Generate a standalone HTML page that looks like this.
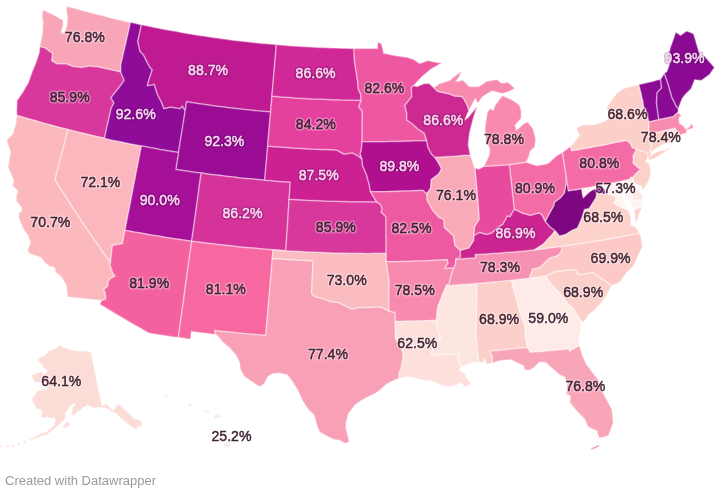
<!DOCTYPE html>
<html><head><meta charset="utf-8"><style>
html,body{margin:0;padding:0;background:#fff;}
body{width:720px;height:495px;overflow:hidden;position:relative;}
svg{position:absolute;left:0;top:0;filter:blur(0.4px);}
text{font-family:"Liberation Sans",sans-serif;font-size:15px;text-anchor:middle;}
text.lh{fill:none;stroke:#fff;stroke-width:3.2px;stroke-opacity:0.35;stroke-linejoin:round;}
text.l{fill:#402535;stroke:#402535;stroke-width:0.45px;}
text.wh{fill:none;stroke:#3a0040;stroke-width:3.2px;stroke-opacity:0.25;stroke-linejoin:round;}
text.w{fill:#f9dcf2;stroke:#f9dcf2;stroke-width:0.45px;}
.credit{position:absolute;left:5px;top:473px;font-family:"Liberation Sans",sans-serif;font-size:13px;color:#9a9a9a;filter:blur(0.3px);}
</style></head><body>
<svg width="720" height="495" viewBox="0 0 720 495">
<g stroke="#fff" stroke-width="1.5" stroke-opacity="0.4" stroke-linejoin="round">
<path d="M130.5,22.3L126.3,21.4L122.0,20.4L117.8,19.4L113.6,18.4L109.3,17.4L105.1,16.3L100.9,15.3L96.7,14.2L92.5,13.1L88.3,12.0L84.1,10.9L79.9,9.8L75.7,8.6L71.5,7.5L67.3,6.3L66.3,10.3L66.9,14.4L67.5,18.6L66.8,25.4L65.4,30.2L62.6,33.8L61.3,31.7L62.4,28.1L63.4,24.4L62.9,19.9L60.8,18.8L58.7,17.8L55.7,16.0L52.6,14.2L49.3,12.8L46.0,11.3L42.8,9.9L41.8,16.2L43.0,21.9L42.7,28.0L42.4,34.1L40.9,40.7L39.8,46.4L42.9,47.4L46.0,48.4L49.0,51.1L52.2,52.9L52.1,57.3L51.6,60.7L54.1,62.2L56.5,63.8L61.4,63.9L66.4,63.9L69.7,65.2L73.1,66.6L77.3,67.1L81.5,67.5L85.4,66.8L89.3,66.0L92.9,66.4L96.5,66.7L96.8,66.5L100.8,67.4L104.7,68.4L108.7,69.3L112.7,70.2L116.7,71.1L120.7,72.0L120.8,68.4L120.8,64.8L122.2,58.7L123.6,52.6L125.0,46.5L126.4,40.5L127.8,34.4L129.1,28.4Z" fill="#f8a5b8"/>
<path d="M39.8,46.4L39.2,52.6L37.6,57.5L36.0,62.3L34.1,67.1L32.1,71.8L30.1,77.4L28.1,83.1L25.4,87.6L22.7,92.2L19.9,96.3L17.0,100.4L16.8,105.2L16.6,110.0L16.8,115.4L21.4,116.8L26.1,118.2L30.7,119.5L35.3,120.8L40.0,122.1L44.6,123.4L49.3,124.7L54.0,126.0L58.6,127.2L63.3,128.4L68.0,129.6L72.5,130.8L77.1,131.9L81.6,133.0L86.2,134.1L90.7,135.2L95.3,136.3L99.8,137.3L104.4,138.3L105.8,132.3L107.1,126.3L108.5,120.3L109.8,114.3L111.2,108.3L114.0,102.8L110.9,97.7L114.9,92.8L118.9,87.8L121.6,84.1L124.3,80.3L122.5,76.2L120.7,72.0L116.7,71.1L112.7,70.2L108.7,69.3L104.7,68.4L100.8,67.4L96.8,66.5L96.5,66.7L92.9,66.4L89.3,66.0L85.4,66.8L81.5,67.5L77.3,67.1L73.1,66.6L69.7,65.2L66.4,63.9L61.4,63.9L56.5,63.8L54.1,62.2L51.6,60.7L52.1,57.3L52.2,52.9L49.0,51.1L46.0,48.4L42.9,47.4Z" fill="#d8389c"/>
<path d="M16.8,115.4L16.2,119.7L15.7,124.0L14.2,128.9L12.7,133.9L9.7,137.1L6.7,140.3L8.7,147.0L10.5,152.0L9.4,158.0L8.7,162.7L8.0,167.4L10.8,174.1L13.7,180.7L12.2,185.7L15.0,188.3L17.7,190.8L16.3,195.8L16.2,201.1L18.3,203.5L20.4,205.9L22.1,209.9L19.2,212.7L18.5,217.8L21.1,223.9L23.7,229.9L27.9,235.5L30.4,242.4L28.9,246.4L27.5,250.5L29.5,253.7L33.3,255.0L37.0,256.2L40.8,257.5L45.2,263.0L47.6,264.9L50.0,266.8L54.3,267.3L55.9,272.6L60.8,276.4L63.5,280.6L66.1,284.7L66.9,291.0L67.5,296.8L72.4,297.4L77.3,298.0L82.2,298.5L87.1,299.1L92.0,299.6L96.8,300.1L101.7,300.6L105.6,299.3L105.8,296.5L104.0,289.2L107.7,286.4L108.3,281.3L110.3,278.5L115.1,276.1L112.6,272.5L110.1,265.0L110.6,262.5L106.4,256.7L102.2,250.8L98.0,244.9L93.9,239.0L89.8,233.1L85.8,227.2L81.8,221.3L77.9,215.4L74.0,209.4L70.1,203.5L66.3,197.5L62.5,191.5L58.8,185.5L55.1,179.5L56.7,173.3L58.3,167.0L59.9,160.8L61.6,154.6L63.2,148.3L64.8,142.1L66.4,135.9L68.0,129.6L63.3,128.4L58.6,127.2L54.0,126.0L49.3,124.7L44.6,123.4L40.0,122.1L35.3,120.8L30.7,119.5L26.1,118.2L21.4,116.8Z" fill="#fbb9be"/>
<path d="M104.4,138.3L99.8,137.3L95.3,136.3L90.7,135.2L86.2,134.1L81.6,133.0L77.1,131.9L72.5,130.8L68.0,129.6L66.4,135.9L64.8,142.1L63.2,148.3L61.6,154.6L59.9,160.8L58.3,167.0L56.7,173.3L55.1,179.5L58.8,185.5L62.5,191.5L66.3,197.5L70.1,203.5L74.0,209.4L77.9,215.4L81.8,221.3L85.8,227.2L89.8,233.1L93.9,239.0L98.0,244.9L102.2,250.8L106.4,256.7L110.6,262.5L111.0,258.2L111.4,253.9L111.9,249.6L112.5,245.4L117.4,244.6L122.4,243.8L123.7,237.0L125.0,230.3L126.3,223.8L127.5,217.3L128.8,210.8L130.1,204.3L131.3,197.8L132.6,191.3L133.8,184.8L135.1,178.4L136.3,171.9L137.6,165.4L138.9,158.9L140.1,152.4L141.4,146.0L136.7,145.1L132.1,144.2L127.5,143.2L122.9,142.3L118.2,141.3L113.6,140.4L109.0,139.4Z" fill="#fbb7bd"/>
<path d="M130.5,22.3L129.1,28.4L127.8,34.4L126.4,40.5L125.0,46.5L123.6,52.6L122.2,58.7L120.8,64.8L120.8,68.4L120.7,72.0L122.5,76.2L124.3,80.3L121.6,84.1L118.9,87.8L114.9,92.8L110.9,97.7L114.0,102.8L111.2,108.3L109.8,114.3L108.5,120.3L107.1,126.3L105.8,132.3L104.4,138.3L109.0,139.4L113.6,140.4L118.2,141.3L122.9,142.3L127.5,143.2L132.1,144.2L136.7,145.1L141.4,146.0L146.0,146.8L150.6,147.7L155.3,148.5L159.9,149.4L164.6,150.2L169.2,150.9L173.9,151.7L178.5,152.4L179.5,146.5L180.4,140.5L181.4,134.5L182.4,128.5L183.3,122.5L184.3,116.5L185.2,110.6L182.3,106.0L180.0,108.5L175.2,107.7L170.4,106.9L167.2,107.7L164.0,108.4L161.4,101.9L159.6,98.5L157.8,95.2L156.0,89.7L154.3,84.3L150.9,84.9L147.4,85.4L148.4,81.7L149.5,78.0L150.9,74.0L152.3,69.9L149.8,66.9L148.0,63.9L145.9,59.6L143.8,55.3L141.9,53.2L139.9,51.0L138.9,46.2L137.8,41.5L139.0,35.9L140.2,30.3L141.4,24.7L137.8,23.9L134.1,23.1Z" fill="#8e0c98"/>
<path d="M141.4,24.7L140.2,30.3L139.0,35.9L137.8,41.5L138.9,46.2L139.9,51.0L141.9,53.2L143.8,55.3L145.9,59.6L148.0,63.9L149.8,66.9L152.3,69.9L150.9,74.0L149.5,78.0L148.4,81.7L147.4,85.4L150.9,84.9L154.3,84.3L156.0,89.7L157.8,95.2L159.6,98.5L161.4,101.9L164.0,108.4L167.2,107.7L170.4,106.9L175.2,107.7L180.0,108.5L182.3,106.0L185.2,110.6L185.9,106.2L186.6,101.8L191.3,102.6L195.9,103.3L200.6,104.0L205.2,104.6L209.9,105.3L214.5,105.9L219.2,106.5L223.8,107.1L228.5,107.7L233.2,108.3L237.8,108.8L242.5,109.3L247.2,109.8L251.9,110.3L256.5,110.8L261.2,111.2L265.9,111.6L270.6,112.0L271.0,106.7L271.5,101.4L271.9,96.1L272.5,89.6L273.1,83.2L273.6,76.7L274.2,70.3L274.7,63.9L275.3,57.4L275.8,51.0L276.4,44.6L271.8,44.2L267.3,43.8L262.8,43.4L258.2,42.9L253.7,42.5L249.2,42.0L244.7,41.5L240.1,41.0L235.6,40.4L231.1,39.9L226.6,39.3L222.1,38.7L217.6,38.0L213.1,37.4L208.6,36.8L204.1,36.1L199.6,35.4L195.1,34.7L190.6,33.9L186.1,33.2L181.6,32.4L177.1,31.6L172.6,30.8L168.2,30.0L163.7,29.2L159.2,28.3L154.8,27.4L150.3,26.5L145.8,25.6Z" fill="#bf1a92"/>
<path d="M185.2,110.6L184.3,116.5L183.3,122.5L182.4,128.5L181.4,134.5L180.4,140.5L179.5,146.5L178.5,152.4L177.6,158.1L176.7,163.7L175.8,169.4L180.9,170.2L185.9,170.9L191.0,171.7L196.1,172.4L201.1,173.1L206.0,173.8L210.9,174.4L215.8,175.0L220.7,175.6L225.5,176.2L230.4,176.8L235.3,177.3L240.2,177.9L245.1,178.4L250.0,178.8L254.9,179.3L259.8,179.8L264.7,180.2L265.3,173.4L265.9,166.5L266.5,159.7L267.1,152.9L267.7,146.0L268.2,139.2L268.8,132.4L269.4,125.6L270.0,118.8L270.6,112.0L265.9,111.6L261.2,111.2L256.5,110.8L251.9,110.3L247.2,109.8L242.5,109.3L237.8,108.8L233.2,108.3L228.5,107.7L223.8,107.1L219.2,106.5L214.5,105.9L209.9,105.3L205.2,104.6L200.6,104.0L195.9,103.3L191.3,102.6L186.6,101.8L185.9,106.2Z" fill="#9a0c94"/>
<path d="M178.5,152.4L173.9,151.7L169.2,150.9L164.6,150.2L159.9,149.4L155.3,148.5L150.6,147.7L146.0,146.8L141.4,146.0L140.1,152.4L138.9,158.9L137.6,165.4L136.3,171.9L135.1,178.4L133.8,184.8L132.6,191.3L131.3,197.8L130.1,204.3L128.8,210.8L127.5,217.3L126.3,223.8L125.0,230.3L130.1,231.2L135.2,232.2L140.4,233.1L145.5,234.0L150.6,234.9L155.7,235.8L160.8,236.6L166.0,237.4L171.1,238.2L176.3,239.0L181.4,239.7L186.5,240.5L191.7,241.2L192.6,234.4L193.6,227.6L194.5,220.8L195.5,214.0L196.4,207.1L197.4,200.3L198.3,193.5L199.2,186.7L200.2,179.9L201.1,173.1L196.1,172.4L191.0,171.7L185.9,170.9L180.9,170.2L175.8,169.4L176.7,163.7L177.6,158.1Z" fill="#a60f98"/>
<path d="M191.7,241.2L186.5,240.5L181.4,239.7L176.3,239.0L171.1,238.2L166.0,237.4L160.8,236.6L155.7,235.8L150.6,234.9L145.5,234.0L140.4,233.1L135.2,232.2L130.1,231.2L125.0,230.3L123.7,237.0L122.4,243.8L117.4,244.6L112.5,245.4L111.9,249.6L111.4,253.9L111.0,258.2L110.6,262.5L110.1,265.0L112.6,272.5L115.1,276.1L110.3,278.5L108.3,281.3L107.7,286.4L104.0,289.2L105.8,296.5L105.6,299.3L101.7,300.6L99.7,304.3L104.6,307.2L109.5,310.2L114.4,313.2L119.3,316.1L124.3,319.0L129.2,321.9L134.2,324.8L139.2,327.6L144.2,330.5L149.3,333.3L154.1,334.0L159.0,334.8L163.8,335.5L168.6,336.2L173.5,336.9L178.3,337.6L179.2,331.2L180.1,324.8L181.0,318.4L181.9,311.9L182.8,305.5L183.7,299.1L184.6,292.7L185.4,286.2L186.3,279.8L187.2,273.4L188.1,266.9L189.0,260.5L189.9,254.1L190.8,247.6Z" fill="#f3619f"/>
<path d="M201.1,173.1L200.2,179.9L199.2,186.7L198.3,193.5L197.4,200.3L196.4,207.1L195.5,214.0L194.5,220.8L193.6,227.6L192.6,234.4L191.7,241.2L196.8,241.9L201.8,242.6L206.9,243.2L212.0,243.8L217.0,244.4L222.1,245.0L227.2,245.6L232.3,246.1L237.4,246.7L242.4,247.2L247.5,247.7L252.6,248.1L257.7,248.6L262.8,249.0L267.9,249.4L273.0,249.8L277.3,250.1L281.5,250.4L285.8,250.7L286.2,244.2L286.6,237.8L287.1,231.4L287.5,224.9L287.9,218.5L288.3,212.1L288.7,205.6L289.1,199.2L289.5,193.5L289.9,187.8L290.2,182.1L285.1,181.8L280.0,181.4L274.9,181.0L269.8,180.6L264.7,180.2L259.8,179.8L254.9,179.3L250.0,178.8L245.1,178.4L240.2,177.9L235.3,177.3L230.4,176.8L225.5,176.2L220.7,175.6L215.8,175.0L210.9,174.4L206.0,173.8Z" fill="#d5329a"/>
<path d="M191.7,241.2L190.8,247.6L189.9,254.1L189.0,260.5L188.1,266.9L187.2,273.4L186.3,279.8L185.4,286.2L184.6,292.7L183.7,299.1L182.8,305.5L181.9,311.9L181.0,318.4L180.1,324.8L179.2,331.2L178.3,337.6L182.4,338.1L186.4,338.7L190.4,339.2L190.9,335.4L191.4,331.6L196.2,332.2L201.0,332.8L205.9,333.3L210.7,333.9L215.5,334.4L214.6,330.6L220.3,331.2L226.0,331.8L231.7,332.3L237.3,332.9L243.0,333.4L248.7,333.9L254.4,334.4L260.0,334.9L265.7,335.3L266.3,328.9L266.8,322.5L267.4,316.1L267.9,309.7L268.5,303.3L269.1,296.9L269.6,290.5L270.2,284.0L270.7,277.6L271.3,271.2L271.8,264.8L272.4,258.4L272.7,254.1L273.0,249.8L267.9,249.4L262.8,249.0L257.7,248.6L252.6,248.1L247.5,247.7L242.4,247.2L237.4,246.7L232.3,246.1L227.2,245.6L222.1,245.0L217.0,244.4L212.0,243.8L206.9,243.2L201.8,242.6L196.8,241.9Z" fill="#f6689f"/>
<path d="M272.4,258.4L271.8,264.8L271.3,271.2L270.7,277.6L270.2,284.0L269.6,290.5L269.1,296.9L268.5,303.3L267.9,309.7L267.4,316.1L266.8,322.5L266.3,328.9L265.7,335.3L260.0,334.9L254.4,334.4L248.7,333.9L243.0,333.4L237.3,332.9L231.7,332.3L226.0,331.8L220.3,331.2L214.6,330.6L215.5,334.4L218.6,337.0L222.4,341.7L225.8,344.7L229.2,347.6L232.4,351.3L235.8,355.1L239.5,362.3L239.9,365.8L240.3,369.2L244.2,376.4L247.7,378.9L251.2,381.3L256.9,385.2L260.5,386.6L264.5,383.2L266.2,379.9L268.0,376.6L272.6,373.8L275.6,373.4L278.6,373.0L283.0,374.0L287.4,374.9L290.2,378.7L292.9,382.4L295.3,386.4L297.7,390.3L300.1,395.6L302.5,400.8L305.3,405.2L308.2,409.5L311.1,412.2L314.0,414.9L315.4,420.0L316.7,425.1L319.5,432.0L323.3,434.2L327.1,436.5L333.2,439.2L337.1,440.1L340.9,441.0L344.7,443.6L349.4,441.8L348.0,436.1L346.9,431.8L345.8,427.6L346.6,420.8L347.5,417.4L348.3,414.0L352.1,409.0L355.2,404.8L361.3,400.6L364.3,398.9L367.3,397.2L371.0,395.5L374.8,393.8L377.8,391.7L380.7,389.5L385.2,385.2L391.1,381.7L395.1,380.0L399.2,378.2L399.1,373.4L401.2,367.9L402.2,362.7L403.1,357.6L403.0,352.5L401.1,348.2L399.2,344.0L395.6,338.9L395.5,333.1L395.4,327.3L395.3,321.5L395.2,316.9L395.1,312.4L392.0,311.7L388.9,310.9L385.2,309.1L381.5,307.2L378.0,307.1L374.5,306.9L371.0,307.2L367.4,307.5L363.2,307.5L359.0,307.4L355.5,308.3L351.9,309.1L349.1,307.7L346.3,306.4L342.1,304.4L338.0,302.3L334.5,302.0L331.0,301.8L326.8,300.1L322.7,298.4L319.2,297.7L315.7,297.0L311.7,294.0L311.9,287.4L312.2,280.7L312.5,274.1L312.8,267.4L313.1,260.7L308.0,260.5L302.9,260.3L297.8,260.0L292.7,259.7L287.6,259.4L282.5,259.1L277.4,258.7Z" fill="#f8a0b6"/>
<path d="M273.0,249.8L272.7,254.1L272.4,258.4L277.4,258.7L282.5,259.1L287.6,259.4L292.7,259.7L297.8,260.0L302.9,260.3L308.0,260.5L313.1,260.7L312.8,267.4L312.5,274.1L312.2,280.7L311.9,287.4L311.7,294.0L315.7,297.0L319.2,297.7L322.7,298.4L326.8,300.1L331.0,301.8L334.5,302.0L338.0,302.3L342.1,304.4L346.3,306.4L349.1,307.7L351.9,309.1L355.5,308.3L359.0,307.4L363.2,307.5L367.4,307.5L371.0,307.2L374.5,306.9L378.0,307.1L381.5,307.2L385.2,309.1L388.9,310.9L388.9,304.9L389.0,298.9L389.0,292.8L389.1,286.8L389.1,280.7L388.2,274.4L387.2,268.1L386.3,261.8L386.2,257.5L386.2,253.3L380.9,253.3L375.6,253.3L370.3,253.4L365.0,253.4L359.7,253.3L354.5,253.3L349.2,253.2L343.9,253.1L338.6,253.0L333.3,252.9L328.0,252.7L322.8,252.5L317.5,252.3L312.2,252.1L306.9,251.9L301.6,251.6L296.4,251.3L291.1,251.0L285.8,250.7L281.5,250.4L277.3,250.1Z" fill="#fabcc0"/>
<path d="M285.8,250.7L291.1,251.0L296.4,251.3L301.6,251.6L306.9,251.9L312.2,252.1L317.5,252.3L322.8,252.5L328.0,252.7L333.3,252.9L338.6,253.0L343.9,253.1L349.2,253.2L354.5,253.3L359.7,253.3L365.0,253.4L370.3,253.4L375.6,253.3L380.9,253.3L386.2,253.3L386.1,247.2L386.1,241.1L386.1,235.0L386.0,229.0L386.0,222.9L386.0,216.8L381.3,212.1L382.2,208.6L380.6,204.3L376.6,201.8L371.4,201.8L366.3,201.8L361.1,201.8L356.0,201.7L350.8,201.7L345.7,201.6L340.5,201.5L335.4,201.3L330.3,201.2L325.1,201.0L320.0,200.8L314.8,200.6L309.7,200.4L304.5,200.1L299.4,199.8L294.3,199.5L289.1,199.2L288.7,205.6L288.3,212.1L287.9,218.5L287.5,224.9L287.1,231.4L286.6,237.8L286.2,244.2Z" fill="#d8389c"/>
<path d="M264.7,180.2L269.8,180.6L274.9,181.0L280.0,181.4L285.1,181.8L290.2,182.1L289.9,187.8L289.5,193.5L289.1,199.2L294.3,199.5L299.4,199.8L304.5,200.1L309.7,200.4L314.8,200.6L320.0,200.8L325.1,201.0L330.3,201.2L335.4,201.3L340.5,201.5L345.7,201.6L350.8,201.7L356.0,201.7L361.1,201.8L366.3,201.8L371.4,201.8L376.6,201.8L373.4,196.6L370.6,191.8L369.9,188.2L369.3,184.6L367.8,179.5L366.4,174.3L364.5,170.0L362.6,165.8L362.0,159.1L358.9,156.3L355.8,154.6L352.7,152.8L348.3,153.4L344.0,154.0L340.3,152.0L336.6,149.9L331.7,149.8L326.7,149.6L321.8,149.4L316.9,149.2L311.9,149.0L307.0,148.7L302.1,148.5L297.2,148.2L292.2,147.9L287.3,147.6L282.4,147.2L277.5,146.8L272.6,146.5L267.7,146.0L267.1,152.9L266.5,159.7L265.9,166.5L265.3,173.4Z" fill="#cd2193"/>
<path d="M267.7,146.0L272.6,146.5L277.5,146.8L282.4,147.2L287.3,147.6L292.2,147.9L297.2,148.2L302.1,148.5L307.0,148.7L311.9,149.0L316.9,149.2L321.8,149.4L326.7,149.6L331.7,149.8L336.6,149.9L340.3,152.0L344.0,154.0L348.3,153.4L352.7,152.8L355.8,154.6L358.9,156.3L362.0,159.1L360.2,153.8L361.5,148.6L362.1,141.8L362.2,135.6L362.2,129.5L362.2,123.4L362.3,117.2L362.3,111.1L358.8,106.8L361.1,100.2L356.4,100.2L351.7,100.1L347.0,100.0L342.3,99.9L337.6,99.8L332.9,99.7L328.2,99.5L323.5,99.3L318.8,99.1L314.1,98.9L309.4,98.7L304.7,98.4L300.1,98.2L295.4,97.9L290.7,97.6L286.0,97.2L281.3,96.9L276.6,96.5L271.9,96.1L271.5,101.4L271.0,106.7L270.6,112.0L270.0,118.8L269.4,125.6L268.8,132.4L268.2,139.2Z" fill="#e6409e"/>
<path d="M271.9,96.1L276.6,96.5L281.3,96.9L286.0,97.2L290.7,97.6L295.4,97.9L300.1,98.2L304.7,98.4L309.4,98.7L314.1,98.9L318.8,99.1L323.5,99.3L328.2,99.5L332.9,99.7L337.6,99.8L342.3,99.9L347.0,100.0L351.7,100.1L356.4,100.2L361.1,100.2L360.7,94.1L358.3,89.0L357.8,82.2L357.0,77.1L356.2,72.1L355.4,67.0L354.6,61.9L354.2,55.2L353.8,48.5L349.5,48.4L345.2,48.3L340.9,48.2L336.6,48.1L332.3,48.0L328.0,47.8L323.7,47.6L319.4,47.4L315.1,47.2L310.8,47.0L306.5,46.8L302.2,46.5L297.9,46.3L293.6,46.0L289.3,45.7L285.0,45.3L280.7,45.0L276.4,44.6L275.8,51.0L275.3,57.4L274.7,63.9L274.2,70.3L273.6,76.7L273.1,83.2L272.5,89.6Z" fill="#d02896"/>
<path d="M353.8,48.5L354.2,55.2L354.6,61.9L355.4,67.0L356.2,72.1L357.0,77.1L357.8,82.2L358.3,89.0L360.7,94.1L361.1,100.2L358.8,106.8L362.3,111.1L362.3,117.2L362.2,123.4L362.2,129.5L362.2,135.6L362.1,141.8L366.7,141.8L371.4,141.8L376.0,141.8L380.6,141.8L385.2,141.7L389.8,141.6L394.4,141.6L399.0,141.5L403.7,141.3L408.3,141.2L412.9,141.0L417.5,140.9L422.1,140.7L426.7,140.5L425.4,136.7L424.1,132.9L421.0,130.9L417.8,128.9L412.7,124.0L409.6,121.9L406.5,119.9L406.9,113.9L405.9,109.7L404.9,105.5L408.3,101.1L411.7,96.8L411.6,92.1L411.4,87.4L413.7,85.7L418.2,80.8L422.7,76.0L427.1,72.4L431.6,68.7L435.0,66.9L438.3,65.0L441.7,63.1L439.4,62.8L437.0,62.5L432.4,61.5L427.7,60.5L423.7,62.0L419.7,63.4L416.8,61.5L413.8,59.5L410.3,58.3L406.8,57.2L403.4,56.8L399.9,56.3L396.5,55.8L392.2,55.0L388.0,54.1L383.8,53.2L382.6,48.3L381.4,43.5L377.5,42.2L377.5,48.6L373.6,48.6L369.6,48.6L365.7,48.6L361.7,48.6L357.8,48.5Z" fill="#ee57a2"/>
<path d="M426.7,140.5L422.1,140.7L417.5,140.9L412.9,141.0L408.3,141.2L403.7,141.3L399.0,141.5L394.4,141.6L389.8,141.6L385.2,141.7L380.6,141.8L376.0,141.8L371.4,141.8L366.7,141.8L362.1,141.8L361.5,148.6L360.2,153.8L362.0,159.1L362.6,165.8L364.5,170.0L366.4,174.3L367.8,179.5L369.3,184.6L369.9,188.2L370.6,191.8L375.3,191.8L380.1,191.7L384.9,191.7L389.6,191.6L394.4,191.4L399.1,191.3L403.9,191.1L408.7,191.0L413.4,190.8L418.2,190.6L422.9,190.4L426.7,194.0L430.6,188.3L431.0,184.0L431.4,179.7L435.1,176.9L438.8,174.1L441.6,168.8L439.9,165.5L438.1,162.1L434.8,157.2L431.4,153.9L427.9,147.2Z" fill="#b01090"/>
<path d="M426.7,194.0L422.9,190.4L418.2,190.6L413.4,190.8L408.7,191.0L403.9,191.1L399.1,191.3L394.4,191.4L389.6,191.6L384.9,191.7L380.1,191.7L375.3,191.8L370.6,191.8L373.4,196.6L376.6,201.8L380.6,204.3L382.2,208.6L381.3,212.1L386.0,216.8L386.0,222.9L386.0,229.0L386.1,235.0L386.1,241.1L386.1,247.2L386.2,253.3L386.2,257.5L386.3,261.8L391.3,261.8L396.4,261.7L401.5,261.6L406.5,261.4L411.6,261.3L416.7,261.1L421.7,260.9L426.8,260.7L431.9,260.5L436.9,260.2L442.0,260.0L447.1,259.7L447.9,263.1L444.6,268.4L449.1,268.2L453.7,267.9L455.5,264.3L455.9,259.1L460.5,257.1L460.3,250.2L455.0,245.4L454.3,240.7L453.7,236.0L449.0,231.6L444.4,227.1L444.2,223.2L444.0,219.4L438.6,217.1L435.8,213.8L433.0,210.5L430.1,205.5L427.3,200.5Z" fill="#ee5aa2"/>
<path d="M453.7,267.9L449.1,268.2L444.6,268.4L447.9,263.1L447.1,259.7L442.0,260.0L436.9,260.2L431.9,260.5L426.8,260.7L421.7,260.9L416.7,261.1L411.6,261.3L406.5,261.4L401.5,261.6L396.4,261.7L391.3,261.8L386.3,261.8L387.2,268.1L388.2,274.4L389.1,280.7L389.1,286.8L389.0,292.8L389.0,298.9L388.9,304.9L388.9,310.9L392.0,311.7L395.1,312.4L395.2,316.9L395.3,321.5L400.4,321.4L405.6,321.3L410.7,321.2L415.9,321.1L421.0,321.0L426.1,320.8L431.3,320.6L436.4,320.4L437.1,313.5L437.9,306.6L440.4,300.5L442.8,294.3L444.7,289.9L446.5,285.5L449.2,283.6L450.3,279.3L451.4,274.9Z" fill="#f78aae"/>
<path d="M436.4,320.4L431.3,320.6L426.1,320.8L421.0,321.0L415.9,321.1L410.7,321.2L405.6,321.3L400.4,321.4L395.3,321.5L395.4,327.3L395.5,333.1L395.6,338.9L399.2,344.0L401.1,348.2L403.0,352.5L403.1,357.6L402.2,362.7L401.2,367.9L399.1,373.4L399.2,378.2L403.3,377.5L407.3,376.8L413.3,377.8L417.8,379.0L422.2,380.1L426.0,380.4L429.7,380.6L433.5,382.2L437.3,383.7L441.8,385.2L446.4,386.7L450.1,386.5L453.8,386.2L456.7,384.4L459.6,382.5L465.9,387.2L468.7,385.3L471.6,383.4L466.8,378.6L465.0,373.6L458.8,369.7L461.6,367.3L459.9,363.8L458.2,360.4L458.8,353.5L453.3,353.8L447.9,354.1L442.4,354.4L437.0,354.7L431.5,354.9L432.8,349.7L434.0,344.5L437.4,341.0L440.9,337.4L439.2,333.2L437.6,329.0L437.0,324.7Z" fill="#fde0dc"/>
<path d="M436.4,320.4L437.0,324.7L437.6,329.0L439.2,333.2L440.9,337.4L437.4,341.0L434.0,344.5L432.8,349.7L431.5,354.9L437.0,354.7L442.4,354.4L447.9,354.1L453.3,353.8L458.8,353.5L458.2,360.4L459.9,363.8L461.6,367.3L465.9,365.3L470.2,363.3L474.6,362.8L478.9,362.3L478.2,356.0L477.4,349.6L476.7,343.2L475.9,336.8L476.1,330.4L476.3,323.9L476.4,317.5L476.6,311.0L476.7,304.5L476.8,298.1L477.0,291.6L477.1,285.1L475.6,283.5L470.7,283.9L465.9,284.3L461.0,284.6L456.2,284.9L451.4,285.2L446.5,285.5L444.7,289.9L442.8,294.3L440.4,300.5L437.9,306.6L437.1,313.5Z" fill="#fde6e2"/>
<path d="M475.6,283.5L477.1,285.1L477.0,291.6L476.8,298.1L476.7,304.5L476.6,311.0L476.4,317.5L476.3,323.9L476.1,330.4L475.9,336.8L476.7,343.2L477.4,349.6L478.2,356.0L478.9,362.3L483.4,362.8L484.5,358.5L486.5,364.3L489.4,363.6L492.3,362.9L492.4,356.1L489.8,351.2L495.2,350.7L500.6,350.2L506.0,349.7L511.4,349.1L516.7,348.6L522.1,348.0L527.5,347.4L526.6,342.4L525.6,337.3L525.3,331.3L525.0,325.3L523.2,321.2L521.5,317.1L519.8,311.0L518.1,304.8L516.5,298.7L514.8,292.5L513.1,286.4L511.5,280.2L506.4,280.7L501.2,281.3L496.1,281.7L491.0,282.2L485.8,282.7L480.7,283.1Z" fill="#fcd0ca"/>
<path d="M511.5,280.2L513.1,286.4L514.8,292.5L516.5,298.7L518.1,304.8L519.8,311.0L521.5,317.1L523.2,321.2L525.0,325.3L525.3,331.3L525.6,337.3L526.6,342.4L527.5,347.4L530.1,352.3L535.7,351.9L541.3,351.5L546.8,351.0L552.4,350.6L557.9,350.1L563.5,349.6L569.0,349.0L569.4,351.6L572.0,349.5L575.8,347.6L579.6,345.7L578.9,340.7L579.9,335.3L580.9,330.0L581.0,325.7L581.0,321.3L577.2,315.0L573.3,308.6L568.3,304.2L564.8,299.5L561.2,294.8L556.2,289.4L551.2,284.0L548.5,280.1L545.8,276.1L541.6,276.6L537.5,277.2L533.3,277.7L529.1,278.2L524.7,278.7L520.3,279.2L515.9,279.7Z" fill="#feeae7"/>
<path d="M579.6,345.7L575.8,347.6L572.0,349.5L569.4,351.6L569.0,349.0L563.5,349.6L557.9,350.1L552.4,350.6L546.8,351.0L541.3,351.5L535.7,351.9L530.1,352.3L527.5,347.4L522.1,348.0L516.7,348.6L511.4,349.1L506.0,349.7L500.6,350.2L495.2,350.7L489.8,351.2L492.4,356.1L492.3,362.9L497.3,361.6L502.4,360.3L506.8,360.1L511.2,359.8L515.1,361.8L519.0,363.8L523.7,365.9L524.9,370.0L530.1,370.3L534.3,367.3L536.9,364.8L539.6,362.3L545.6,362.5L548.9,365.5L552.3,368.5L555.7,371.5L559.1,374.5L564.8,377.2L567.2,383.7L566.7,388.9L566.3,394.1L570.4,396.1L569.7,402.2L574.5,408.4L577.2,411.4L580.0,414.5L584.5,418.9L586.3,423.0L588.0,427.0L592.2,428.9L596.5,430.8L597.8,434.5L599.2,438.1L602.3,437.6L605.3,436.7L608.3,435.8L610.1,432.1L611.7,427.6L613.3,423.0L612.9,418.5L612.5,414.0L612.1,409.5L609.1,404.0L606.1,398.5L603.3,392.9L600.5,387.4L599.5,383.6L598.5,379.9L595.2,375.7L591.8,371.5L589.0,367.6L586.1,363.8L584.4,359.7L582.6,355.7L581.1,350.7Z" fill="#f8a5b8"/>
<path d="M545.8,276.1L548.5,280.1L551.2,284.0L556.2,289.4L561.2,294.8L564.8,299.5L568.3,304.2L573.3,308.6L577.2,315.0L581.0,321.3L584.0,321.7L586.4,318.3L588.7,314.9L592.6,311.7L596.4,308.4L600.6,303.4L604.8,298.3L608.3,292.0L611.8,285.6L605.6,281.2L599.3,276.9L593.2,272.5L588.1,273.2L583.1,273.9L578.0,274.6L575.9,270.0L573.7,269.5L569.0,270.0L564.4,270.5L559.7,270.9L555.1,271.4L550.4,273.7Z" fill="#fcd0ca"/>
<path d="M529.1,278.2L533.3,277.7L537.5,277.2L541.6,276.6L545.8,276.1L550.4,273.7L555.1,271.4L559.7,270.9L564.4,270.5L569.0,270.0L573.7,269.5L575.9,270.0L578.0,274.6L583.1,273.9L588.1,273.2L593.2,272.5L599.3,276.9L605.6,281.2L611.8,285.6L614.5,284.5L617.3,283.4L620.4,281.6L623.0,277.7L625.6,273.8L629.8,269.5L634.0,265.3L636.1,260.4L638.2,255.5L640.3,251.2L642.5,246.9L641.8,242.0L641.1,237.1L639.3,233.1L634.1,234.2L628.9,235.2L623.8,236.1L618.6,237.1L613.4,238.1L608.2,239.0L603.0,239.9L597.8,240.8L592.6,241.6L587.4,242.4L582.2,243.3L577.0,244.1L571.8,244.8L566.6,245.6L561.4,246.3L561.8,250.4L558.3,255.3L553.7,256.8L549.1,258.3L544.2,263.3L541.7,265.4L539.2,267.4L535.9,268.3L532.5,269.1L530.8,273.7Z" fill="#fcc9c6"/>
<path d="M455.9,259.1L460.8,258.8L465.7,258.4L470.6,258.1L475.6,257.7L475.0,254.6L480.4,254.3L485.9,253.9L491.3,253.6L496.7,253.2L502.1,252.8L507.5,252.3L512.9,251.9L518.3,251.4L523.7,250.9L529.1,250.4L534.5,249.8L539.9,249.2L545.3,248.5L550.6,247.8L556.0,247.1L561.4,246.3L561.8,250.4L558.3,255.3L553.7,256.8L549.1,258.3L544.2,263.3L541.7,265.4L539.2,267.4L535.9,268.3L532.5,269.1L530.8,273.7L529.1,278.2L524.7,278.7L520.3,279.2L515.9,279.7L511.5,280.2L506.4,280.7L501.2,281.3L496.1,281.7L491.0,282.2L485.8,282.7L480.7,283.1L475.6,283.5L470.7,283.9L465.9,284.3L461.0,284.6L456.2,284.9L451.4,285.2L446.5,285.5L449.2,283.6L450.3,279.3L451.4,274.9L453.7,267.9L455.5,264.3Z" fill="#f691b3"/>
<path d="M534.5,249.8L529.1,250.4L523.7,250.9L518.3,251.4L512.9,251.9L507.5,252.3L502.1,252.8L496.7,253.2L491.3,253.6L485.9,253.9L480.4,254.3L475.0,254.6L475.6,257.7L470.6,258.1L465.7,258.4L460.8,258.8L455.9,259.1L460.5,257.1L460.3,250.2L464.5,249.0L468.7,247.9L471.1,244.2L473.5,240.6L473.7,235.4L476.6,233.9L479.5,232.3L482.9,233.3L486.4,234.3L491.6,233.0L494.1,230.6L496.5,228.2L499.7,226.1L502.8,224.1L505.0,220.0L507.2,215.8L510.0,216.4L514.2,209.0L518.5,211.1L522.9,213.2L526.7,214.2L530.4,215.2L534.6,214.0L538.8,212.9L541.7,214.2L543.5,217.7L545.3,221.2L550.1,226.9L555.2,230.7L551.4,235.4L547.2,239.9L543.1,244.4L538.8,247.1Z" fill="#cc2592"/>
<path d="M534.5,249.8L538.8,247.1L543.1,244.4L547.2,239.9L551.4,235.4L555.2,230.7L559.6,236.0L562.9,235.1L566.1,234.1L568.6,232.5L571.1,230.8L574.2,229.4L577.4,228.0L579.9,222.4L582.3,216.8L584.4,209.4L589.0,208.6L592.7,202.8L595.8,197.8L596.5,194.2L597.1,190.6L601.0,192.7L604.8,194.8L605.6,191.3L609.2,194.5L612.0,195.2L614.9,196.0L616.1,198.4L614.2,203.1L618.2,205.8L621.1,207.0L624.1,208.2L628.7,210.7L629.8,214.5L630.9,218.2L631.0,225.2L636.2,227.3L639.3,233.1L634.1,234.2L628.9,235.2L623.8,236.1L618.6,237.1L613.4,238.1L608.2,239.0L603.0,239.9L597.8,240.8L592.6,241.6L587.4,242.4L582.2,243.3L577.0,244.1L571.8,244.8L566.6,245.6L561.4,246.3L556.0,247.1L550.6,247.8L545.3,248.5L539.9,249.2ZM634.3,209.6L637.1,208.6L639.6,207.6L642.2,206.5L640.6,210.6L639.1,214.7L637.5,219.3L635.9,223.8L634.8,217.4L634.6,213.5Z" fill="#fcd2cb"/>
<path d="M555.2,230.7L550.1,226.9L545.3,221.2L547.4,217.2L549.5,213.1L551.6,209.4L553.7,205.6L554.5,202.0L557.5,199.8L560.5,197.6L564.4,192.7L565.2,187.8L566.1,182.8L566.0,179.0L565.9,175.2L566.7,180.4L567.6,185.6L568.4,190.8L572.9,190.1L577.3,189.4L581.8,188.6L582.5,193.0L583.3,197.4L586.0,194.8L588.8,192.1L592.3,189.7L596.0,188.2L598.4,186.9L601.1,187.2L603.9,187.6L605.6,191.3L604.8,194.8L601.0,192.7L597.1,190.6L596.5,194.2L595.8,197.8L592.7,202.8L589.0,208.6L584.4,209.4L582.3,216.8L579.9,222.4L577.4,228.0L574.2,229.4L571.1,230.8L568.6,232.5L566.1,234.1L562.9,235.1L559.6,236.0Z" fill="#7c0780"/>
<path d="M605.6,191.3L603.9,187.6L601.1,187.2L598.4,186.9L596.0,188.2L592.3,189.7L588.8,192.1L586.0,194.8L583.3,197.4L582.5,193.0L581.8,188.6L586.5,187.8L591.3,186.9L596.0,186.1L600.7,185.2L605.4,184.3L610.2,183.4L614.9,182.5L619.6,181.5L624.3,180.6L629.0,179.6L630.1,184.9L631.3,190.3L632.4,195.6L633.5,201.0L638.3,199.9L643.1,198.9L642.7,202.7L642.2,206.5L639.6,207.6L637.1,208.6L634.3,209.6L631.3,204.0L628.5,200.2L625.7,196.4L625.9,191.1L626.1,187.1L626.3,183.2L623.0,190.0L622.8,195.3L624.0,199.4L625.1,203.6L626.9,207.2L628.7,210.7L624.1,208.2L621.1,207.0L618.2,205.8L614.2,203.1L616.1,198.4L614.9,196.0L612.0,195.2L609.2,194.5Z" fill="#fef3f1"/>
<path d="M643.1,198.9L638.3,199.9L633.5,201.0L632.4,195.6L631.3,190.3L630.1,184.9L629.0,179.6L631.0,177.1L633.0,177.2L632.5,181.0L632.6,183.6L635.9,187.3L638.1,191.2L641.5,193.4Z" fill="#fde8e4"/>
<path d="M562.2,152.5L563.2,158.2L564.1,163.9L565.0,169.5L565.9,175.2L566.7,180.4L567.6,185.6L568.4,190.8L572.9,190.1L577.3,189.4L581.8,188.6L586.5,187.8L591.3,186.9L596.0,186.1L600.7,185.2L605.4,184.3L610.2,183.4L614.9,182.5L619.6,181.5L624.3,180.6L629.0,179.6L631.0,177.1L633.0,177.2L636.8,173.0L640.6,169.5L637.4,166.7L633.3,163.2L633.6,158.8L633.1,156.3L636.7,149.1L632.5,147.6L630.1,142.9L626.2,140.2L621.6,141.2L617.1,142.1L612.6,143.0L608.0,144.0L603.5,144.9L599.0,145.7L594.4,146.6L589.9,147.4L585.3,148.3L580.8,149.1L576.2,149.9L571.6,150.6L570.9,146.1L566.6,149.3Z" fill="#f46ca6"/>
<path d="M636.7,149.1L633.1,156.3L633.6,158.8L633.3,163.2L637.4,166.7L640.6,169.5L636.8,173.0L633.0,177.2L633.3,181.7L638.1,185.0L641.6,186.0L642.6,190.6L645.4,186.3L648.1,181.9L650.6,175.2L650.7,169.9L649.8,166.1L648.9,162.4L645.6,162.3L647.7,158.3L648.0,152.9L642.4,151.0Z" fill="#fccfc8"/>
<path d="M636.7,149.1L642.4,151.0L648.0,152.9L647.7,158.3L650.7,155.8L651.2,152.2L649.8,150.7L651.8,146.7L650.3,140.5L648.9,134.2L648.9,128.0L649.0,121.9L647.2,115.3L645.3,108.7L643.9,108.1L642.9,101.3L641.9,97.2L641.0,93.0L639.9,88.8L638.9,84.6L635.0,85.6L631.0,86.5L627.0,87.5L623.1,88.4L619.9,90.8L616.7,93.3L613.4,97.9L610.0,102.5L606.7,107.6L608.5,112.0L610.4,116.4L607.7,118.7L605.0,121.0L600.3,122.8L595.6,124.6L591.4,124.7L587.3,124.8L583.1,124.8L579.8,126.3L576.6,127.7L577.5,132.3L579.8,134.5L575.7,140.4L573.3,143.2L570.9,146.1L571.6,150.6L576.2,149.9L580.8,149.1L585.3,148.3L589.9,147.4L594.4,146.6L599.0,145.7L603.5,144.9L608.0,144.0L612.6,143.0L617.1,142.1L621.6,141.2L626.2,140.2L630.1,142.9L632.5,147.6ZM649.1,160.2L651.9,159.3L654.6,158.4L659.2,155.6L663.8,152.7L666.9,150.3L670.0,148.0L673.1,145.6L670.5,146.9L667.9,148.1L664.4,149.9L661.9,150.5L659.5,151.1L656.4,152.2L653.4,153.4L650.3,155.9L648.6,158.1Z" fill="#fcd0c9"/>
<path d="M638.9,84.6L643.3,83.5L647.6,82.5L652.0,81.4L656.3,80.3L660.6,79.2L661.1,83.6L661.6,87.9L659.4,90.3L657.2,92.6L656.8,97.5L656.5,102.4L657.2,108.0L658.0,113.5L658.8,119.8L655.5,120.5L652.3,121.2L649.0,121.9L647.2,115.3L645.3,108.7L643.9,108.1L642.9,101.3L641.9,97.2L641.0,93.0L639.9,88.8Z" fill="#8a0a94"/>
<path d="M658.8,119.8L658.0,113.5L657.2,108.0L656.5,102.4L656.8,97.5L657.2,92.6L659.4,90.3L661.6,87.9L661.1,83.6L660.6,79.2L662.5,76.2L664.3,73.2L666.3,78.8L668.3,84.5L669.5,88.8L670.8,93.2L672.0,97.6L674.2,101.9L676.3,106.2L678.5,108.6L678.0,112.5L675.5,114.6L673.0,116.8L668.2,117.8L663.5,118.8Z" fill="#8a0a94"/>
<path d="M664.3,73.2L666.7,71.7L668.7,66.3L670.6,60.9L669.8,56.8L669.0,52.6L670.5,46.9L673.2,39.5L675.8,32.1L680.6,35.3L683.6,33.1L686.6,30.9L690.1,32.3L693.6,33.8L695.3,39.3L696.9,44.9L698.6,50.5L700.3,56.0L704.8,56.4L709.7,62.1L714.5,67.4L712.1,71.0L709.7,74.5L705.5,77.6L701.3,80.6L698.0,80.2L694.7,79.8L692.9,84.4L691.0,88.9L688.5,91.4L686.0,93.8L684.1,96.1L682.2,98.4L679.2,106.3L678.5,108.6L676.3,106.2L674.2,101.9L672.0,97.6L670.8,93.2L669.5,88.8L668.3,84.5L666.3,78.8Z" fill="#8a0a94"/>
<path d="M649.0,121.9L648.9,128.0L648.9,134.2L653.1,133.3L657.2,132.4L661.4,131.5L665.6,130.6L669.8,129.6L672.4,129.0L674.9,128.3L675.5,130.3L678.3,132.2L680.4,136.1L682.7,133.7L685.9,133.7L686.9,129.9L689.9,129.1L693.0,128.3L692.9,125.6L691.0,123.5L689.9,126.5L686.0,129.3L683.9,126.3L679.2,123.1L679.1,117.8L681.6,115.4L678.0,112.5L675.5,114.6L673.0,116.8L668.2,117.8L663.5,118.8L658.8,119.8L655.5,120.5L652.3,121.2Z" fill="#f78cae"/>
<path d="M680.4,136.1L678.3,132.2L675.5,130.3L674.9,128.3L672.4,129.0L669.8,129.6L671.1,134.8L672.4,139.9L672.2,141.4L676.3,139.5L677.8,137.7Z" fill="#fde0dc"/>
<path d="M648.9,134.2L650.3,140.5L651.8,146.7L649.8,150.7L651.2,152.2L654.0,150.1L656.2,148.5L658.4,146.9L661.4,145.6L664.3,144.2L668.3,142.8L672.2,141.4L672.4,139.9L671.1,134.8L669.8,129.6L665.6,130.6L661.4,131.5L657.2,132.4L653.1,133.3Z" fill="#fcd0c9"/>
<path d="M509.3,164.6L510.0,171.0L510.7,177.3L511.4,183.6L512.1,190.0L512.8,196.3L513.5,202.7L514.2,209.0L518.5,211.1L522.9,213.2L526.7,214.2L530.4,215.2L534.6,214.0L538.8,212.9L541.7,214.2L543.5,217.7L545.3,221.2L547.4,217.2L549.5,213.1L551.6,209.4L553.7,205.6L554.5,202.0L557.5,199.8L560.5,197.6L564.4,192.7L565.2,187.8L566.1,182.8L566.0,179.0L565.9,175.2L565.0,169.5L564.1,163.9L563.2,158.2L562.2,152.5L559.4,154.1L556.6,155.7L552.7,159.3L548.7,162.9L545.1,164.3L540.7,165.0L536.3,165.6L530.9,163.7L526.2,162.1L522.0,162.7L517.7,163.4L513.5,164.0Z" fill="#f46ca6"/>
<path d="M514.2,209.0L513.5,202.7L512.8,196.3L512.1,190.0L511.4,183.6L510.7,177.3L510.0,171.0L509.3,164.6L505.0,164.9L500.8,165.2L496.5,165.5L492.2,165.8L488.0,166.0L483.7,166.3L479.1,169.1L474.9,168.1L475.4,174.8L476.0,181.5L476.6,188.2L477.2,194.9L477.8,201.6L478.4,208.3L478.7,213.9L479.1,219.4L476.7,223.1L474.4,226.7L474.1,231.1L473.7,235.4L476.6,233.9L479.5,232.3L482.9,233.3L486.4,234.3L491.6,233.0L494.1,230.6L496.5,228.2L499.7,226.1L502.8,224.1L505.0,220.0L507.2,215.8L510.0,216.4Z" fill="#e84a9d"/>
<path d="M473.7,235.4L474.1,231.1L474.4,226.7L476.7,223.1L479.1,219.4L478.7,213.9L478.4,208.3L477.8,201.6L477.2,194.9L476.6,188.2L476.0,181.5L475.4,174.8L474.9,168.1L473.7,165.6L472.8,162.3L471.6,158.6L470.3,154.9L465.9,155.2L461.4,155.6L457.0,155.9L452.6,156.2L448.1,156.4L443.7,156.7L439.2,156.9L434.8,157.2L438.1,162.1L439.9,165.5L441.6,168.8L438.8,174.1L435.1,176.9L431.4,179.7L431.0,184.0L430.6,188.3L426.7,194.0L427.3,200.5L430.1,205.5L433.0,210.5L435.8,213.8L438.6,217.1L444.0,219.4L444.2,223.2L444.4,227.1L449.0,231.6L453.7,236.0L454.3,240.7L455.0,245.4L460.3,250.2L464.5,249.0L468.7,247.9L471.1,244.2L473.5,240.6Z" fill="#f9a9b8"/>
<path d="M434.8,157.2L439.2,156.9L443.7,156.7L448.1,156.4L452.6,156.2L457.0,155.9L461.4,155.6L465.9,155.2L470.3,154.9L469.2,149.7L468.2,144.6L468.9,138.5L469.7,132.5L470.6,129.0L471.5,125.5L473.3,118.5L475.2,112.3L477.1,106.2L472.7,111.7L470.5,114.4L468.3,117.2L464.9,120.0L466.9,114.7L469.0,110.3L467.3,105.3L464.4,99.6L461.8,96.4L458.2,96.2L454.6,96.1L449.7,93.9L445.6,93.0L441.6,92.2L437.6,91.3L433.9,87.8L428.9,83.3L426.5,83.4L424.2,83.5L420.7,84.9L417.3,86.4L413.7,85.7L411.4,87.4L411.6,92.1L411.7,96.8L408.3,101.1L404.9,105.5L405.9,109.7L406.9,113.9L406.5,119.9L409.6,121.9L412.7,124.0L417.8,128.9L421.0,130.9L424.1,132.9L425.4,136.7L426.7,140.5L427.9,147.2L431.4,153.9Z" fill="#cc2a92"/>
<path d="M483.7,166.3L488.0,166.0L492.2,165.8L496.5,165.5L500.8,165.2L505.0,164.9L509.3,164.6L513.5,164.0L517.7,163.4L522.0,162.7L526.2,162.1L529.2,156.1L529.9,151.7L532.4,149.2L534.9,146.7L535.3,142.8L535.7,138.8L534.4,133.8L533.1,128.9L530.4,125.3L527.7,121.8L523.1,124.2L519.8,127.2L516.4,130.2L515.2,125.2L518.2,121.8L521.1,118.4L521.2,114.5L521.3,110.6L519.4,104.9L515.7,102.3L512.0,99.8L507.3,97.8L502.5,95.8L499.3,99.6L497.2,102.4L495.1,105.2L493.3,110.5L490.6,108.2L487.3,112.0L486.2,119.0L485.5,124.2L484.8,129.4L485.3,134.5L485.8,139.6L487.8,144.5L489.9,149.5L489.3,153.0L488.7,156.5L486.2,161.4ZM433.9,87.8L437.6,91.3L441.6,92.2L445.6,93.0L449.7,93.9L454.6,96.1L458.2,96.2L461.8,96.4L464.4,99.6L467.3,105.3L469.0,110.3L472.1,104.5L475.2,98.6L478.0,103.5L482.2,97.1L484.5,95.6L486.7,94.1L489.5,92.5L492.4,91.0L497.3,92.3L502.2,93.6L506.3,92.4L510.3,91.1L512.6,89.7L514.8,88.3L511.4,85.3L508.1,82.3L504.8,82.7L501.6,83.1L497.0,79.4L493.5,80.0L490.1,80.7L486.6,81.3L482.7,83.9L478.8,86.4L475.6,86.4L472.4,86.4L469.3,86.4L466.0,83.3L462.8,80.1L459.4,80.9L455.9,81.5L459.0,77.1L462.1,70.9L459.3,72.8L456.5,74.7L453.2,77.5L449.9,80.3L446.4,81.4L443.0,82.5L439.5,83.5L436.7,85.6Z" fill="#f78aae"/>
<path d="M91.0,352.3L85.5,350.7L80.5,350.9L75.5,350.6L71.5,350.0L67.5,348.2L63.6,347.4L59.2,345.3L56.8,348.0L52.8,349.2L48.6,351.0L44.6,355.1L39.8,357.5L37.2,360.0L39.6,362.5L42.5,365.2L42.8,368.2L45.4,369.1L47.0,371.6L44.1,374.2L41.6,371.5L37.9,372.7L31.2,374.9L33.9,381.1L36.5,382.4L41.2,382.8L46.1,384.0L47.1,386.7L46.8,389.6L42.9,389.2L37.5,390.8L35.7,393.4L33.0,396.5L31.7,399.2L33.5,403.7L35.5,406.9L37.5,409.6L41.0,409.4L42.0,413.7L41.0,417.1L43.9,418.0L47.0,417.1L50.5,418.5L54.2,417.6L55.2,421.1L53.8,425.1L50.5,428.4L45.7,432.1L40.7,433.4L36.1,436.3L31.9,438.1L28.6,439.6L30.9,439.7L36.9,438.2L41.1,436.3L47.1,434.5L51.2,431.3L56.2,427.5L60.3,423.6L64.3,420.1L66.4,416.0L64.9,413.7L67.2,410.8L69.7,407.2L72.4,404.8L75.4,403.5L73.3,406.5L72.3,409.5L71.4,414.7L73.8,415.2L76.6,412.7L78.5,410.9L81.3,410.0L83.1,407.5L86.1,406.6L87.3,404.7L90.4,406.6L93.6,408.5L97.8,407.5L102.2,407.5L105.3,408.1L109.4,410.1L113.7,412.7L117.2,414.1L118.9,416.7L121.7,418.9L124.5,421.7L127.7,424.3L130.7,426.4L134.3,428.9L137.4,428.5L139.0,426.0L141.6,427.3L142.3,423.6L141.0,420.3L138.0,419.6L134.2,418.5L131.8,416.3L127.3,411.7L123.6,408.0L119.4,404.4L117.8,404.3L115.5,406.8L113.4,410.3L108.8,406.7L107.1,404.1L103.1,405.0L101.8,405.3ZM62.5,426.5L66.5,428.2L70.2,424.7L69.2,421.8L66.2,422.4L64.0,424.2Z" fill="#fcdcd7"/><g fill="#fcdcd7" stroke="none"><circle cx="24.4" cy="442.1" r="1.1"/><circle cx="18.8" cy="444.0" r="1.1"/><circle cx="13.1" cy="445.8" r="1.1"/><circle cx="7.6" cy="446.2" r="1.1"/><circle cx="0.1" cy="446.7" r="1.1"/><circle cx="-7.0" cy="445.7" r="1.1"/><circle cx="-12.5" cy="445.2" r="1.1"/><circle cx="-17.8" cy="443.9" r="1.1"/><circle cx="-23.4" cy="443.6" r="1.1"/></g><path d="M591.5,449 L595.5,447.3 L599,445.5" fill="none" stroke="#f8a5b8" stroke-width="1.6" stroke-opacity="1"/><g fill="#f6ecea" stroke="none"><ellipse cx="166" cy="395.6" rx="2" ry="1.2"/><ellipse cx="189.6" cy="404.8" rx="2" ry="1.4"/><ellipse cx="206.6" cy="411.5" rx="2.6" ry="1.3"/><ellipse cx="217" cy="416.5" rx="3.2" ry="1.5"/><ellipse cx="227" cy="445" rx="3" ry="2.5"/></g>
</g>
<g>
<text x="84.8" y="42.3" class="lh" textLength="40" lengthAdjust="spacingAndGlyphs">76.8%</text>
<text x="84.8" y="42.3" class="l" textLength="40" lengthAdjust="spacingAndGlyphs">76.8%</text>
<text x="69.7" y="102" class="lh" textLength="40" lengthAdjust="spacingAndGlyphs">85.9%</text>
<text x="69.7" y="102" class="l" textLength="40" lengthAdjust="spacingAndGlyphs">85.9%</text>
<text x="50.3" y="227" class="lh" textLength="40" lengthAdjust="spacingAndGlyphs">70.7%</text>
<text x="50.3" y="227" class="l" textLength="40" lengthAdjust="spacingAndGlyphs">70.7%</text>
<text x="100.4" y="186.5" class="lh" textLength="40" lengthAdjust="spacingAndGlyphs">72.1%</text>
<text x="100.4" y="186.5" class="l" textLength="40" lengthAdjust="spacingAndGlyphs">72.1%</text>
<text x="135.7" y="118.6" class="wh" textLength="40" lengthAdjust="spacingAndGlyphs">92.6%</text>
<text x="135.7" y="118.6" class="w" textLength="40" lengthAdjust="spacingAndGlyphs">92.6%</text>
<text x="208.1" y="75.3" class="wh" textLength="40" lengthAdjust="spacingAndGlyphs">88.7%</text>
<text x="208.1" y="75.3" class="w" textLength="40" lengthAdjust="spacingAndGlyphs">88.7%</text>
<text x="224.4" y="146.3" class="wh" textLength="40" lengthAdjust="spacingAndGlyphs">92.3%</text>
<text x="224.4" y="146.3" class="w" textLength="40" lengthAdjust="spacingAndGlyphs">92.3%</text>
<text x="159.7" y="204.7" class="wh" textLength="40" lengthAdjust="spacingAndGlyphs">90.0%</text>
<text x="159.7" y="204.7" class="w" textLength="40" lengthAdjust="spacingAndGlyphs">90.0%</text>
<text x="149.2" y="287.7" class="lh" textLength="40" lengthAdjust="spacingAndGlyphs">81.9%</text>
<text x="149.2" y="287.7" class="l" textLength="40" lengthAdjust="spacingAndGlyphs">81.9%</text>
<text x="242.5" y="217.7" class="wh" textLength="40" lengthAdjust="spacingAndGlyphs">86.2%</text>
<text x="242.5" y="217.7" class="w" textLength="40" lengthAdjust="spacingAndGlyphs">86.2%</text>
<text x="225.8" y="294.3" class="lh" textLength="40" lengthAdjust="spacingAndGlyphs">81.1%</text>
<text x="225.8" y="294.3" class="l" textLength="40" lengthAdjust="spacingAndGlyphs">81.1%</text>
<text x="328" y="359.2" class="lh" textLength="40" lengthAdjust="spacingAndGlyphs">77.4%</text>
<text x="328" y="359.2" class="l" textLength="40" lengthAdjust="spacingAndGlyphs">77.4%</text>
<text x="346.7" y="284.7" class="lh" textLength="40" lengthAdjust="spacingAndGlyphs">73.0%</text>
<text x="346.7" y="284.7" class="l" textLength="40" lengthAdjust="spacingAndGlyphs">73.0%</text>
<text x="335.8" y="232" class="lh" textLength="40" lengthAdjust="spacingAndGlyphs">85.9%</text>
<text x="335.8" y="232" class="l" textLength="40" lengthAdjust="spacingAndGlyphs">85.9%</text>
<text x="318.75" y="179.5" class="wh" textLength="40" lengthAdjust="spacingAndGlyphs">87.5%</text>
<text x="318.75" y="179.5" class="w" textLength="40" lengthAdjust="spacingAndGlyphs">87.5%</text>
<text x="315.8" y="128.6" class="lh" textLength="40" lengthAdjust="spacingAndGlyphs">84.2%</text>
<text x="315.8" y="128.6" class="l" textLength="40" lengthAdjust="spacingAndGlyphs">84.2%</text>
<text x="315.6" y="77.5" class="wh" textLength="40" lengthAdjust="spacingAndGlyphs">86.6%</text>
<text x="315.6" y="77.5" class="w" textLength="40" lengthAdjust="spacingAndGlyphs">86.6%</text>
<text x="384.4" y="92.6" class="lh" textLength="40" lengthAdjust="spacingAndGlyphs">82.6%</text>
<text x="384.4" y="92.6" class="l" textLength="40" lengthAdjust="spacingAndGlyphs">82.6%</text>
<text x="399.4" y="171.20000000000002" class="wh" textLength="40" lengthAdjust="spacingAndGlyphs">89.8%</text>
<text x="399.4" y="171.20000000000002" class="w" textLength="40" lengthAdjust="spacingAndGlyphs">89.8%</text>
<text x="411.5" y="233.1" class="lh" textLength="40" lengthAdjust="spacingAndGlyphs">82.5%</text>
<text x="411.5" y="233.1" class="l" textLength="40" lengthAdjust="spacingAndGlyphs">82.5%</text>
<text x="414.7" y="295.3" class="lh" textLength="40" lengthAdjust="spacingAndGlyphs">78.5%</text>
<text x="414.7" y="295.3" class="l" textLength="40" lengthAdjust="spacingAndGlyphs">78.5%</text>
<text x="417.3" y="347.7" class="lh" textLength="40" lengthAdjust="spacingAndGlyphs">62.5%</text>
<text x="417.3" y="347.7" class="l" textLength="40" lengthAdjust="spacingAndGlyphs">62.5%</text>
<text x="443.3" y="125.3" class="wh" textLength="40" lengthAdjust="spacingAndGlyphs">86.6%</text>
<text x="443.3" y="125.3" class="w" textLength="40" lengthAdjust="spacingAndGlyphs">86.6%</text>
<text x="456" y="200.3" class="lh" textLength="40" lengthAdjust="spacingAndGlyphs">76.1%</text>
<text x="456" y="200.3" class="l" textLength="40" lengthAdjust="spacingAndGlyphs">76.1%</text>
<text x="504" y="143.7" class="lh" textLength="40" lengthAdjust="spacingAndGlyphs">78.8%</text>
<text x="504" y="143.7" class="l" textLength="40" lengthAdjust="spacingAndGlyphs">78.8%</text>
<text x="535" y="193.3" class="lh" textLength="40" lengthAdjust="spacingAndGlyphs">80.9%</text>
<text x="535" y="193.3" class="l" textLength="40" lengthAdjust="spacingAndGlyphs">80.9%</text>
<text x="515.5" y="238" class="wh" textLength="40" lengthAdjust="spacingAndGlyphs">86.9%</text>
<text x="515.5" y="238" class="w" textLength="40" lengthAdjust="spacingAndGlyphs">86.9%</text>
<text x="500" y="272.2" class="lh" textLength="40" lengthAdjust="spacingAndGlyphs">78.3%</text>
<text x="500" y="272.2" class="l" textLength="40" lengthAdjust="spacingAndGlyphs">78.3%</text>
<text x="499.1" y="323.9" class="lh" textLength="40" lengthAdjust="spacingAndGlyphs">68.9%</text>
<text x="499.1" y="323.9" class="l" textLength="40" lengthAdjust="spacingAndGlyphs">68.9%</text>
<text x="548.3" y="322.9" class="lh" textLength="40" lengthAdjust="spacingAndGlyphs">59.0%</text>
<text x="548.3" y="322.9" class="l" textLength="40" lengthAdjust="spacingAndGlyphs">59.0%</text>
<text x="585.4" y="390.8" class="lh" textLength="40" lengthAdjust="spacingAndGlyphs">76.8%</text>
<text x="585.4" y="390.8" class="l" textLength="40" lengthAdjust="spacingAndGlyphs">76.8%</text>
<text x="583.2" y="297" class="lh" textLength="40" lengthAdjust="spacingAndGlyphs">68.9%</text>
<text x="583.2" y="297" class="l" textLength="40" lengthAdjust="spacingAndGlyphs">68.9%</text>
<text x="610.6" y="262.7" class="lh" textLength="40" lengthAdjust="spacingAndGlyphs">69.9%</text>
<text x="610.6" y="262.7" class="l" textLength="40" lengthAdjust="spacingAndGlyphs">69.9%</text>
<text x="603.3" y="222" class="lh" textLength="40" lengthAdjust="spacingAndGlyphs">68.5%</text>
<text x="603.3" y="222" class="l" textLength="40" lengthAdjust="spacingAndGlyphs">68.5%</text>
<text x="615.6" y="193.4" class="lh" textLength="40" lengthAdjust="spacingAndGlyphs">57.3%</text>
<text x="615.6" y="193.4" class="l" textLength="40" lengthAdjust="spacingAndGlyphs">57.3%</text>
<text x="599.3" y="167.8" class="lh" textLength="40" lengthAdjust="spacingAndGlyphs">80.8%</text>
<text x="599.3" y="167.8" class="l" textLength="40" lengthAdjust="spacingAndGlyphs">80.8%</text>
<text x="627.5" y="118.5" class="lh" textLength="40" lengthAdjust="spacingAndGlyphs">68.6%</text>
<text x="627.5" y="118.5" class="l" textLength="40" lengthAdjust="spacingAndGlyphs">68.6%</text>
<text x="660.8" y="142" class="lh" textLength="40" lengthAdjust="spacingAndGlyphs">78.4%</text>
<text x="660.8" y="142" class="l" textLength="40" lengthAdjust="spacingAndGlyphs">78.4%</text>
<text x="684.6" y="63.3" class="wh" textLength="40" lengthAdjust="spacingAndGlyphs">93.9%</text>
<text x="684.6" y="63.3" class="w" textLength="40" lengthAdjust="spacingAndGlyphs">93.9%</text>
<text x="61.3" y="385.8" class="lh" textLength="40" lengthAdjust="spacingAndGlyphs">64.1%</text>
<text x="61.3" y="385.8" class="l" textLength="40" lengthAdjust="spacingAndGlyphs">64.1%</text>
<text x="231.5" y="440.7" class="lh" textLength="40" lengthAdjust="spacingAndGlyphs">25.2%</text>
<text x="231.5" y="440.7" class="l" textLength="40" lengthAdjust="spacingAndGlyphs">25.2%</text>
</g>
</svg>
<div class="credit">Created with Datawrapper</div>
</body></html>
